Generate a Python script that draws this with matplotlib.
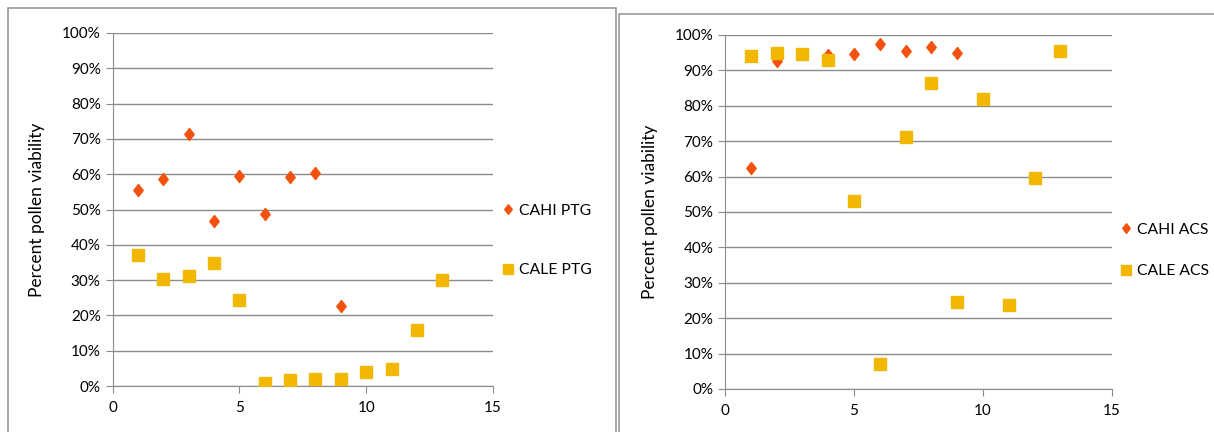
import matplotlib.pyplot as plt
from matplotlib.patches import Rectangle
from matplotlib.ticker import PercentFormatter

plt.rcParams['font.family'] = ['Lato', 'DejaVu Sans']

# plant number on the x axis
plants = [1, 2, 3, 4, 5, 6, 7, 8, 9, 10, 11, 12, 13]

# PTG site, percent pollen viability
cahi_ptg = [55.5, 58.5, 71.4, 46.8, 59.6, 48.7, 59.3, 60.4, 22.6]
cale_ptg = [37.0, 30.2, 31.1, 34.8, 24.3, 0.8, 1.6, 2.1, 1.9, 3.9, 4.9, 15.8, 30.0]

# ACS site
cahi_acs = [62.4, 92.6, 94.5, 94.3, 94.7, 97.5, 95.4, 96.6, 95.0]
cale_acs = [94.2, 94.8, 94.5, 92.8, 53.0, 7.2, 71.1, 86.5, 24.5, 81.8, 23.6, 59.7, 95.6]

orange = '#f2520e'
gold = '#f2b800'
grid_grey = '#8c8c8c'

# slightly tall diamond
diamond = [(0, 1), (0.78, 0), (0, -1), (-0.78, 0), (0, 1)]

fig = plt.figure(figsize=(12.14, 4.32), dpi=100)
W, H = 1214, 432

# chart area borders
fig.patches.append(Rectangle((7.5 / W, -0.05), 608.5 / W, 1 - 8 / H + 0.05,
                             transform=fig.transFigure, fill=False,
                             edgecolor='#9a9a9a', lw=1.2))
fig.patches.append(Rectangle((619 / W, -0.05), 600 / W, 1 - 14 / H + 0.05,
                             transform=fig.transFigure, fill=False,
                             edgecolor='#9a9a9a', lw=1.2))


def panel(rect, hi, le, hi_label, le_label, leg_xy, spacing):
    ax = fig.add_axes(rect)
    ax.plot(plants[:len(hi)], hi, linestyle='none', marker=diamond, ms=8.7,
            color=orange, label=hi_label, zorder=3)
    ax.plot(plants[:len(le)], le, linestyle='none', marker='s', ms=9.3,
            color=gold, label=le_label, zorder=3)
    ax.set_xlim(0, 15)
    ax.set_ylim(0, 100)
    ax.set_xticks([0, 5, 10, 15])
    ax.set_yticks(range(0, 101, 10))
    ax.yaxis.set_major_formatter(PercentFormatter(decimals=0))
    ax.yaxis.grid(True, color=grid_grey, lw=1)
    ax.set_axisbelow(True)
    for s in ['top', 'right']:
        ax.spines[s].set_visible(False)
    for s in ['left', 'bottom']:
        ax.spines[s].set_color(grid_grey)
    ax.tick_params(axis='both', colors=grid_grey, labelcolor='black',
                   labelsize=11, length=5, direction='out')
    ax.tick_params(axis='x', pad=6)
    ax.set_ylabel('Percent pollen viability', fontsize=12.5, labelpad=12)
    ax.legend(loc='center left', bbox_to_anchor=leg_xy,
              bbox_transform=fig.transFigure, frameon=False, fontsize=11.3,
              handlelength=0.7, handletextpad=0.3, labelspacing=spacing,
              markerscale=0.8, borderpad=0, borderaxespad=0)
    return ax


panel([112.5 / W, 1 - 386 / H, 380.5 / W, 353 / H], cahi_ptg, cale_ptg,
      'CAHI PTG', 'CALE PTG', (503 / W, 1 - 240.5 / H), 2.9)
panel([725 / W, 1 - 389 / H, 387 / W, 354 / H], cahi_acs, cale_acs,
      'CAHI ACS', 'CALE ACS', (1121 / W, 1 - 250.5 / H), 1.75)

fig.savefig('out.png', dpi=100)
